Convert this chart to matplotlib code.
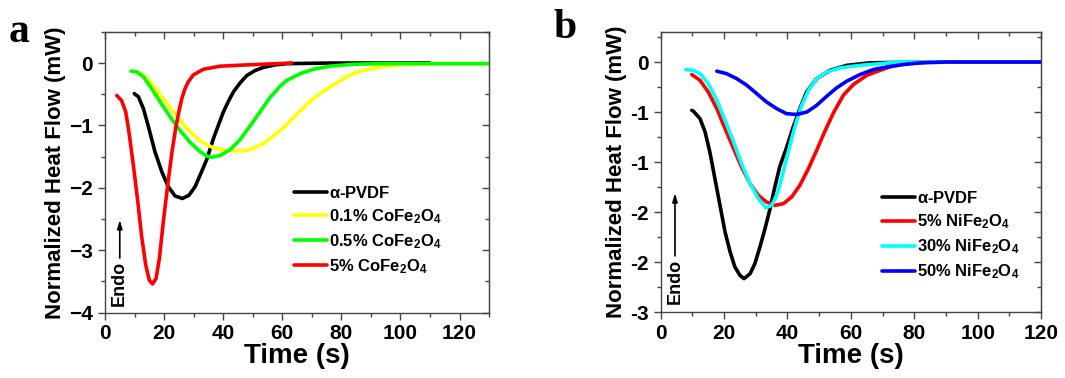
import numpy as np
import matplotlib
matplotlib.use('Agg')
import matplotlib.pyplot as plt

plt.rcParams['font.family'] = ['Liberation Sans', 'DejaVu Sans']
plt.rcParams['font.weight'] = 'bold'
plt.rcParams['mathtext.default'] = 'regular'

# Panel a data (time in s, heat flow in mW)
a_pvdf_t = [9.9, 11.3, 13.0, 14.7, 16.9, 19.2, 21.4, 23.7, 26.2, 28.4, 30.5, 32.7, 34.4, 36.7, 38.5,
            40.1, 41.8, 43.5, 45.7, 48.0, 50.8, 53.6, 57.5, 61.5, 76.0, 110.0]
a_pvdf_v = [-0.49, -0.54, -0.73, -1.02, -1.42, -1.74, -1.98, -2.13, -2.17, -2.12, -1.98, -1.74, -1.55, -1.21, -0.98,
            -0.78, -0.61, -0.46, -0.32, -0.20, -0.12, -0.07, -0.03, -0.01, 0.0, 0.0]

a_co01_t = [9.0, 10.5, 12.4, 15.8, 19.2, 22.6, 25.4, 28.8, 32.2, 36.7, 41.0, 45.2, 49.0, 53.6, 57.0, 59.3,
            62.0, 64.9, 67.7, 70.5, 73.4, 76.2, 79.0, 81.8, 84.6, 87.5, 93.1, 100.0, 110.0, 130.0]
a_co01_v = [-0.13, -0.14, -0.17, -0.33, -0.54, -0.75, -0.92, -1.10, -1.25, -1.36, -1.40, -1.41, -1.39, -1.29, -1.17, -1.08,
            -0.96, -0.82, -0.69, -0.57, -0.47, -0.38, -0.30, -0.22, -0.16, -0.12, -0.06, -0.03, -0.01, -0.01]

a_co05_t = [8.8, 10.7, 13.0, 15.8, 19.2, 22.6, 25.4, 28.8, 32.2, 34.5, 36.1, 39.0, 42.3, 45.7, 49.1, 52.5,
            55.9, 59.3, 61.5, 63.5, 66.1, 70.5, 76.2, 84.1, 93.1, 130.0]
a_co05_v = [-0.13, -0.14, -0.22, -0.41, -0.66, -0.90, -1.08, -1.27, -1.42, -1.49, -1.51, -1.48, -1.39, -1.23, -1.01, -0.78,
            -0.55, -0.37, -0.28, -0.23, -0.17, -0.10, -0.05, -0.02, -0.01, -0.01]

a_co5_t = [4.0, 5.6, 7.0, 8.1, 9.6, 11.1, 12.4, 13.8, 15.0, 16.1, 17.3, 18.4, 19.75, 21.2, 22.6, 23.9,
           25.0, 26.0, 27.0, 28.2, 29.9, 33.3, 39.0, 48.0, 63.2]
a_co5_v = [-0.52, -0.60, -0.78, -1.10, -1.64, -2.22, -2.78, -3.24, -3.48, -3.54, -3.45, -3.13, -2.54, -1.96, -1.45, -1.05,
           -0.78, -0.57, -0.42, -0.30, -0.19, -0.10, -0.05, -0.03, 0.0]

# Panel b data
b_pvdf_t = [9.8, 10.3, 12.4, 14.0, 15.5, 17.1, 18.7, 20.3, 21.9, 23.4, 25.0, 26.3, 28.2, 29.7, 31.3, 32.9,
            34.5, 36.0, 37.6, 39.5, 41.8, 43.9, 46.0, 49.2, 53.4, 58.7, 66.0, 82.0, 120.0]
b_pvdf_v = [-0.58, -0.59, -0.68, -0.84, -1.08, -1.40, -1.72, -2.04, -2.28, -2.46, -2.56, -2.60, -2.54, -2.42, -2.22, -2.00,
            -1.76, -1.50, -1.25, -1.05, -0.78, -0.56, -0.36, -0.20, -0.10, -0.04, -0.01, 0.0, 0.0]

b_ni5_t = [9.8, 12.4, 15.0, 17.7, 20.3, 23.0, 25.5, 28.2, 30.8, 33.4, 36.0, 38.7, 41.3, 43.9, 46.6, 49.2,
           51.8, 54.5, 57.6, 60.8, 65.0, 69.2, 73.0, 77.6, 85.0, 120.0]
b_ni5_v = [-0.15, -0.22, -0.36, -0.56, -0.80, -1.04, -1.26, -1.46, -1.60, -1.68, -1.72, -1.70, -1.62, -1.48, -1.28, -1.06,
           -0.83, -0.61, -0.40, -0.27, -0.16, -0.10, -0.05, -0.02, 0.0, 0.0]

b_ni30_t = [7.9, 10.3, 12.4, 15.0, 17.7, 20.3, 23.0, 25.5, 28.2, 30.8, 33.2, 35.0, 36.6, 38.1, 39.7, 41.3,
            42.9, 44.5, 46.6, 49.2, 52.4, 56.6, 62.9, 69.2, 75.0, 120.0]
b_ni30_v = [-0.09, -0.10, -0.14, -0.26, -0.46, -0.70, -0.96, -1.22, -1.46, -1.64, -1.75, -1.72, -1.60, -1.40, -1.16, -0.92,
            -0.70, -0.52, -0.34, -0.20, -0.12, -0.07, -0.04, -0.02, 0.0, 0.0]

b_ni50_t = [17.7, 20.8, 24.0, 27.2, 30.3, 33.4, 36.6, 39.7, 42.9, 46.1, 49.2, 52.4, 55.5, 58.7, 62.9, 67.1,
            71.3, 76.5, 82.0, 90.0, 120.0]
b_ni50_v = [-0.11, -0.14, -0.20, -0.28, -0.38, -0.48, -0.56, -0.62, -0.63, -0.60, -0.52, -0.41, -0.31, -0.23, -0.15, -0.09,
            -0.06, -0.03, -0.01, 0.0, 0.0]

b_yticks = [0, -0.6, -1.2, -1.8, -2.4, -3.0]
b_yticklabels = ['0', '-1', '-1', '-2', '-2', '-3']

fig = plt.figure(figsize=(10.65, 3.78), dpi=100)
ax1 = fig.add_axes([0.0986, 0.1728, 0.3606, 0.743])
ax2 = fig.add_axes([0.6204, 0.1746, 0.3571, 0.7407])

spine_col = '#444444'
lw = 2.6


def style(ax):
    for s in ax.spines.values():
        s.set_color(spine_col)
        s.set_linewidth(1.0)
    ax.tick_params(which='both', direction='out', colors=spine_col, labelcolor='black',
                   labelsize=15, width=1.0, top=False, right=False)
    ax.tick_params(which='major', length=5)
    ax.tick_params(which='minor', length=3)
    # mirror ticks pointing inward
    axt = ax.secondary_xaxis('top')
    axt.set_xticks(ax.get_xticks())
    axt.set_xticks(ax.get_xticks(minor=True), minor=True)
    axt.tick_params(which='both', direction='in', labeltop=False, colors=spine_col, width=1.0)
    axt.tick_params(which='major', length=5)
    axt.tick_params(which='minor', length=3)
    axt.spines['top'].set_color(spine_col)
    axr = ax.secondary_yaxis('right')
    axr.set_yticks(ax.get_yticks())
    axr.set_yticks(ax.get_yticks(minor=True), minor=True)
    axr.tick_params(which='both', direction='in', labelright=False, colors=spine_col, width=1.0)
    axr.tick_params(which='major', length=5)
    axr.tick_params(which='minor', length=3)
    axr.spines['right'].set_color(spine_col)
    for lab in ax.get_xticklabels() + ax.get_yticklabels():
        lab.set_fontweight('bold')
    ax.set_xlabel('Time (s)', fontsize=20, fontweight='bold', labelpad=0)
    ax.set_ylabel('Normalized Heat Flow (mW)', fontsize=16, fontweight='bold', labelpad=2)


kw = dict(lw=lw, solid_joinstyle='round', solid_capstyle='round')

# Panel a
ax1.plot(a_pvdf_t, a_pvdf_v, color='black', label=r'$\alpha$-PVDF', **kw)
ax1.plot(a_co01_t, a_co01_v, color='#ffff00', label='0.1% CoFe$_2$O$_4$', **kw)
ax1.plot(a_co05_t, a_co05_v, color='#00ff00', label='0.5% CoFe$_2$O$_4$', **kw)
ax1.plot(a_co5_t, a_co5_v, color='#ff0000', label='5% CoFe$_2$O$_4$', **kw)
ax1.set_xlim(0, 130)
ax1.set_ylim(-4, 0.5)
ax1.set_xticks(np.arange(0, 121, 20))
ax1.set_xticks(np.arange(10, 131, 20), minor=True)
ax1.set_yticks([0, -1, -2, -3, -4])
ax1.set_yticks([-0.5, -1.5, -2.5, -3.5, 0.5], minor=True)
style(ax1)
ax1.legend(loc='upper left', bbox_to_anchor=(0.47, 0.485), frameon=False, fontsize=12,
           handlelength=2.0, handletextpad=0.1, labelspacing=0.38, borderpad=0)
ax1.text(4.7, -3.53, 'Endo', rotation=90, ha='center', va='center', fontsize=13, fontweight='bold')
ax1.annotate('', xy=(5, -2.47), xytext=(5, -3.17),
             arrowprops=dict(arrowstyle='-|>,head_length=0.5,head_width=0.15', color='black', lw=1.2))

# Panel b
ax2.plot(b_pvdf_t, b_pvdf_v, color='black', label=r'$\alpha$-PVDF', **kw)
ax2.plot(b_ni5_t, b_ni5_v, color='#ff0000', label='5% NiFe$_2$O$_4$', **kw)
ax2.plot(b_ni30_t, b_ni30_v, color='#00ffff', label='30% NiFe$_2$O$_4$', **kw)
ax2.plot(b_ni50_t, b_ni50_v, color='#0000ff', label='50% NiFe$_2$O$_4$', **kw)
ax2.set_xlim(0, 120)
ax2.set_ylim(-3.0, 0.36)
ax2.set_xticks(np.arange(0, 121, 20))
ax2.set_xticks(np.arange(10, 120, 20), minor=True)
ax2.set_yticks(b_yticks)
ax2.set_yticklabels(b_yticklabels)
ax2.set_yticks([0.3, -0.3, -0.9, -1.5, -2.1, -2.7], minor=True)
style(ax2)
ax2.legend(loc='upper left', bbox_to_anchor=(0.56, 0.465), frameon=False, fontsize=12,
           handlelength=2.0, handletextpad=0.1, labelspacing=0.38, borderpad=0)
ax2.text(4.5, -2.63, 'Endo', rotation=90, ha='center', va='center', fontsize=13, fontweight='bold')
ax2.annotate('', xy=(4.5, -1.54), xytext=(4.5, -2.36),
             arrowprops=dict(arrowstyle='-|>,head_length=0.5,head_width=0.15', color='black', lw=1.2))

fig.text(0.008, 0.965, 'a', fontsize=30, fontweight='bold', family='Liberation Serif', va='top')
fig.text(0.52, 0.975, 'b', fontsize=30, fontweight='bold', family='Liberation Serif', va='top')

fig.savefig('out.png', dpi=100)
